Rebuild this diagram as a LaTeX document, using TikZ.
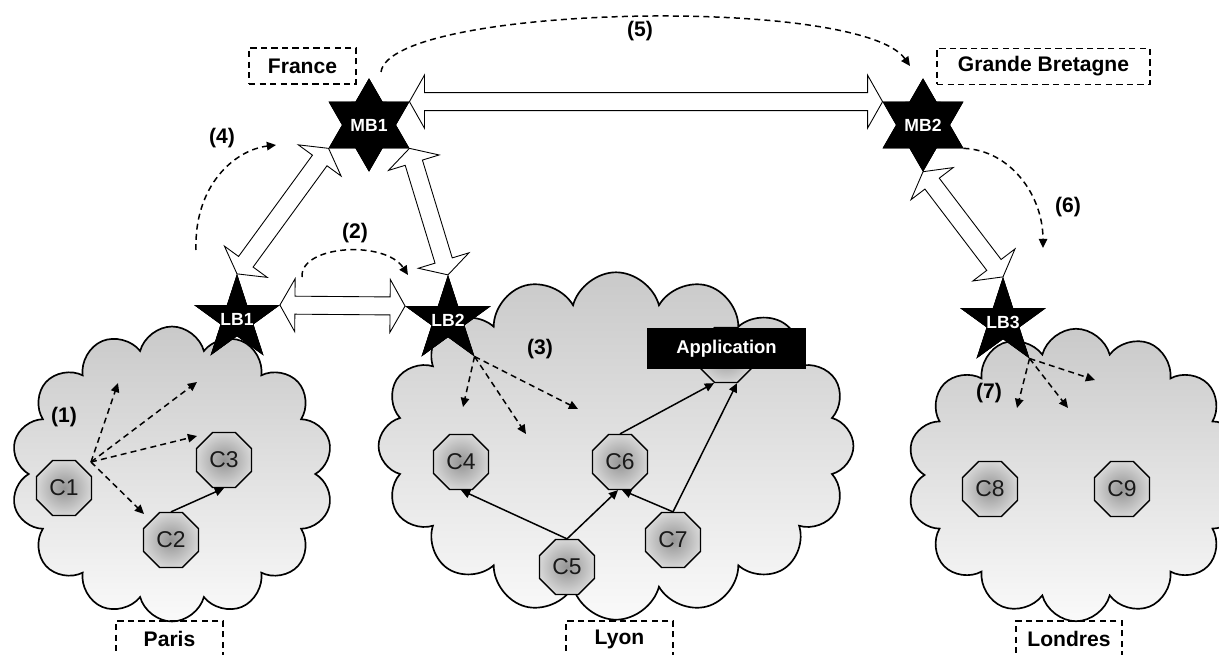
\documentclass[tikz,border=0pt]{standalone}
\usepackage{fontspec}
\setmainfont{Liberation Sans}
\usetikzlibrary{shapes.geometric,shapes.symbols,arrows.meta,calc}

\newcommand\dblarrow[2]{%
  \path ($(#1)!0.3cm!(#2)$) coordinate (ha) ($(#2)!0.3cm!(#1)$) coordinate (hb);
  \draw[hollow] (#1) -- ($(ha)!0.53cm!90:(#2)$) -- ($(ha)!0.18cm!90:(#2)$)
    -- ($(hb)!0.18cm!-90:(#1)$) -- ($(hb)!0.53cm!-90:(#1)$) -- (#2)
    -- ($(hb)!0.53cm!90:(#1)$) -- ($(hb)!0.18cm!90:(#1)$)
    -- ($(ha)!0.18cm!-90:(#2)$) -- ($(ha)!0.53cm!-90:(#2)$) -- cycle;
}

\tikzset{
  cloudsty/.style={cloud, cloud ignores aspect, draw=black, line width=0.95pt,
    top color=black!21, bottom color=black!2, inner sep=0pt},
  oct/.style={regular polygon, regular polygon sides=8, minimum size=1.19cm,
    inner sep=0pt, draw=black, line width=0.75pt, inner color=black!42,
    outer color=black!16, text=black!90, font=\fontsize{13}{13}\selectfont},
  hexstar/.style={star, star points=6, star point ratio=1.732, minimum size=1.84cm,
    inner sep=0pt, fill=black, draw=black},
  pentstar/.style={star, star points=5, star point ratio=2.618, minimum size=1.76cm,
    inner sep=0pt, fill=black, draw=black},
  starlbl/.style={text=white, font=\fontsize{10}{10}\selectfont\bfseries},
  lbl/.style={font=\fontsize{12}{12}\selectfont\bfseries},
  dbox/.style={draw=black, line width=0.8pt, dash pattern=on 3.6pt off 2.4pt,
    minimum height=0.72cm, inner sep=0pt, font=\fontsize{12}{12}\selectfont\bfseries},
  appbox/.style={fill=black, text=white, minimum width=3.18cm, minimum height=0.82cm,
    inner sep=0pt, font=\fontsize{10.5}{10.5}\selectfont\bfseries},
  hollow/.style={fill=white, draw=black, line width=0.5pt, line join=miter},
  dasharrow/.style={line width=0.85pt, dash pattern=on 3.4pt off 2.4pt,
    -{Triangle[length=5.2pt,width=4.8pt]}},
  solidarrow/.style={line width=0.85pt, -{Triangle[length=5.2pt,width=4.8pt]}},
}

\begin{document}
\begin{tikzpicture}[x=0.02cm, y=-0.02cm]
\useasboundingbox (0,0) rectangle (1219,655);
\clip (0,0) rectangle (1219,655);

% clouds
\node[cloudsty, cloud puffs=14, minimum width=6.45cm, minimum height=5.9cm] (paris) at (172,474) {};
\node[cloudsty, cloud puffs=16, minimum width=9.5cm, minimum height=6.95cm] (lyon) at (616,446) {};
\node[cloudsty, cloud puffs=14, minimum width=6.75cm, minimum height=5.85cm] (londres) at (1076,475) {};

% components
\node[oct] (C1) at (64,488) {C1};
\node[oct] (C2) at (171,540) {C2};
\node[oct] (C3) at (224,460) {C3};
\node[oct] (C4) at (461,462) {C4};
\node[oct] (C5) at (567,567) {C5};
\node[oct] (C6) at (620,462) {C6};
\node[oct] (C7) at (673,540) {C7};
\node[oct] (C8) at (990,489) {C8};
\node[oct] (C9) at (1122,489) {C9};
\node[oct] (App) at (726,355) {};
\node[appbox] (AppBox) at (726.5,348.5) {Application};

% solid arrows
\draw[solidarrow] (C2.north) -- (C3.south);
\draw[solidarrow] (C5.north) -- (C4.south);
\draw[solidarrow] (C5.north) -- ($(C6.south)+(-2,0)$);
\draw[solidarrow] (C7.north) -- ($(C6.south)+(2,0)$);
\draw[solidarrow] (C6.north) -- ($(App.south)+(-12,0)$);
\draw[solidarrow] (C7.north) -- ($(App.south)+(11,0)$);

% brokers (shapes first, to get anchors)
\node[hexstar] (MB1) at (369,125) {};
\node[hexstar] (MB2) at (923,125) {};
\node[pentstar] (LB1) at (237,319) {};
\node[pentstar] (LB2) at (448,320) {};
\node[pentstar] (LB3) at (1003,322) {};

% hollow double arrows
\dblarrow{MB1.outer point 6}{MB2.outer point 2}
\dblarrow{MB1.outer point 3}{LB1.outer point 1}
\dblarrow{MB1.outer point 5}{LB2.outer point 1}
\dblarrow{LB1.outer point 5}{LB2.outer point 2}
\dblarrow{MB2.outer point 4}{LB3.outer point 1}

% redraw stars over arrow tips, with their names
\node[hexstar] at (MB1) {};
\node[starlbl] (tMB1) at (MB1) {MB1};
\node[hexstar] at (MB2) {};
\node[starlbl] (tMB2) at (MB2) {MB2};
\node[pentstar] at (LB1) {};
\node[starlbl] (tLB1) at (LB1) {LB1};
\node[pentstar] at (LB2) {};
\node[starlbl] (tLB2) at (LB2) {LB2};
\node[pentstar] at (LB3) {};
\node[starlbl] (tLB3) at (LB3) {LB3};

% dashed curved arrows
\coordinate (s4) at (196,250);
\coordinate (e4) at (276,145);
\draw[dasharrow] (s4) .. controls (194,185) and (235,150) .. (e4);
\coordinate (s2) at (302,277);
\coordinate (e2) at (408,275);
\draw[dasharrow] (s2) .. controls (300,245) and (385,240) .. (e2);
\coordinate (s5) at (381,72);
\coordinate (e5) at (910,66);
\draw[dasharrow] (s5) .. controls (390,5) and (860,-5) .. (e5);
\coordinate (e6) at (1043,248);
\draw[dasharrow] (MB2.outer point 5) .. controls (1010,150) and (1043,195) .. (e6);

% dashed straight arrows
\coordinate (o1) at (91,462);
\coordinate (t1a) at (118,383);
\coordinate (t1b) at (197,382);
\coordinate (t1c) at (197,436);
\coordinate (t1d) at (144,514);
\foreach \t in {t1a,t1b,t1c,t1d} \draw[dasharrow] (o1) -- (\t);
\coordinate (t3a) at (463,407);
\coordinate (t3b) at (526,434);
\coordinate (t3c) at (578,409);
\foreach \t in {t3a,t3b,t3c} \draw[dasharrow] (LB2.outer point 4) -- (\t);
\coordinate (t7a) at (1017,408);
\coordinate (t7b) at (1068,408);
\coordinate (t7c) at (1095,380);
\foreach \t in {t7a,t7b,t7c} \draw[dasharrow] (LB3.outer point 4) -- (\t);

% step labels
\node[lbl] (n1) at (64,417) {(1)};
\node[lbl] (n2) at (355,233) {(2)};
\node[lbl] (n3) at (540,349) {(3)};
\node[lbl] (n4) at (222,138) {(4)};
\node[lbl] (n5) at (640,31) {(5)};
\node[lbl] (n6) at (1068,207) {(6)};
\node[lbl] (n7) at (989,393) {(7)};

% region boxes
\node[dbox, minimum width=2.14cm] (france) at (302.5,66) {France};
\node[dbox, minimum width=4.26cm] (gb) at (1043.5,66.5) {Grande Bretagne};
\node[dbox, minimum width=2.14cm] (parisbox) at (169.5,639) {Paris};
\node[dbox, minimum width=2.14cm] (lyonbox) at (619.5,639) {Lyon};
\node[dbox, minimum width=2.12cm] (londresbox) at (1069,639) {Londres};
\end{tikzpicture}
\end{document}
